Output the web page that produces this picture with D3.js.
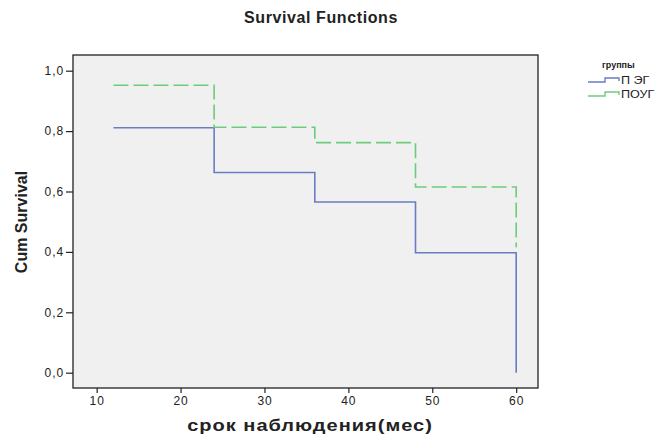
<!DOCTYPE html>
<html>
<head>
<meta charset="utf-8">
<script src="https://cdn.jsdelivr.net/npm/d3@7"></script>
<style>
  body { margin: 0; background: #fff; }
  text { font-family: "Liberation Sans", Arial, sans-serif; fill: #222; }
</style>
</head>
<body>
<div id="chart"></div>
<script>
// Survival data
var times = [12, 24, 36, 48, 60];
var pegSurvival = [0.811, 0.663, 0.565, 0.397, 0.0];
var pougSurvival = [0.952, 0.813, 0.762, 0.615, 0.415];
var groupNames = ["П ЭГ", "ПОУГ"];
var xTicks = [10, 20, 30, 40, 50, 60];
var yTicks = [0, 0.2, 0.4, 0.6, 0.8, 1.0];

var width = 662;
var height = 434;
var plot = { left: 73, right: 538, top: 55, bottom: 388 };

var svg = d3.select("#chart").append("svg")
    .attr("width", width)
    .attr("height", height);

var x = d3.scaleLinear().domain([7.18, 62.6]).range([plot.left, plot.right]);
var y = d3.scaleLinear().domain([-0.0507, 1.052]).range([plot.bottom, plot.top]);

// plot background
svg.append("rect")
    .attr("x", plot.left)
    .attr("y", plot.top)
    .attr("width", plot.right - plot.left)
    .attr("height", plot.bottom - plot.top)
    .attr("fill", "#f0f0f0");

var fmt = function(d) { return d3.format(".1f")(d).replace(".", ","); };

var yAxis = svg.append("g")
    .attr("transform", "translate(" + plot.left + ",0)")
    .call(d3.axisLeft(y).tickValues(yTicks).tickFormat(fmt).tickSize(7).tickPadding(2));
var xAxis = svg.append("g")
    .attr("transform", "translate(0," + plot.bottom + ")")
    .call(d3.axisBottom(x).tickValues(xTicks).tickFormat(d3.format("d")).tickSize(5).tickPadding(3));

[xAxis, yAxis].forEach(function(a) {
  a.select(".domain").remove();
  a.selectAll("line").attr("stroke", "#222").attr("stroke-width", 1.2);
  a.selectAll("text")
      .style("font-family", "'Liberation Sans', Arial, sans-serif")
      .style("font-size", "12px")
      .style("letter-spacing", "0.9px")
      .attr("fill", "#333");
});

// border
svg.append("rect")
    .attr("x", plot.left)
    .attr("y", plot.top)
    .attr("width", plot.right - plot.left)
    .attr("height", plot.bottom - plot.top)
    .attr("fill", "none")
    .attr("stroke", "#222")
    .attr("stroke-width", 1.3);

var line = d3.line()
    .x(function(d) { return x(d[0]); })
    .y(function(d) { return y(d[1]); })
    .curve(d3.curveStepAfter);

var series = [
  { values: pegSurvival, color: "#6a7cc4", dash: null },
  { values: pougSurvival, color: "#6dcc7c", dash: "15,5" }
];

series.forEach(function(s) {
  var pts = times.map(function(t, i) { return [t, s.values[i]]; });
  svg.append("path")
      .attr("d", line(pts))
      .attr("fill", "none")
      .attr("stroke", s.color)
      .attr("stroke-width", 1.6)
      .attr("stroke-dasharray", s.dash);
});

// titles
svg.append("text")
    .attr("x", 321)
    .attr("y", 23)
    .attr("text-anchor", "middle")
    .style("font-size", "16px")
    .style("font-weight", "bold")
    .style("letter-spacing", "0.6px")
    .attr("fill", "#111")
    .text("Survival Functions");

svg.append("text")
    .attr("transform", "translate(310,431) scale(1.25,1)")
    .attr("text-anchor", "middle")
    .style("font-size", "16px")
    .style("font-weight", "bold")
    .style("letter-spacing", "0.8px")
    .attr("fill", "#111")
    .text("срок наблюдения(мес)");

svg.append("text")
    .attr("transform", "translate(27,222) rotate(-90)")
    .attr("text-anchor", "middle")
    .style("font-family", "'Liberation Sans Narrow', 'Liberation Sans', Arial, sans-serif")
    .style("font-size", "16px")
    .style("font-weight", "bold")
    .attr("fill", "#111")
    .text("Cum Survival");

// legend
var legend = svg.append("g");
legend.append("text")
    .attr("x", 602)
    .attr("y", 68)
    .style("font-size", "9px")
    .style("font-weight", "bold")
    .attr("fill", "#222")
    .text("группы");

series.forEach(function(s, i) {
  var ly = 82 + i * 14;
  legend.append("path")
      .attr("d", "M588," + ly + "H605V" + (ly - 4) + "H619V" + (ly - 1))
      .attr("fill", "none")
      .attr("stroke", s.color)
      .attr("stroke-width", 1.4);
  legend.append("text")
      .attr("transform", "translate(621," + (ly + 2) + ") scale(1.2,1)")
      .style("font-size", "10.5px")
      .attr("fill", "#222")
      .text(groupNames[i]);
});
</script>
</body>
</html>
